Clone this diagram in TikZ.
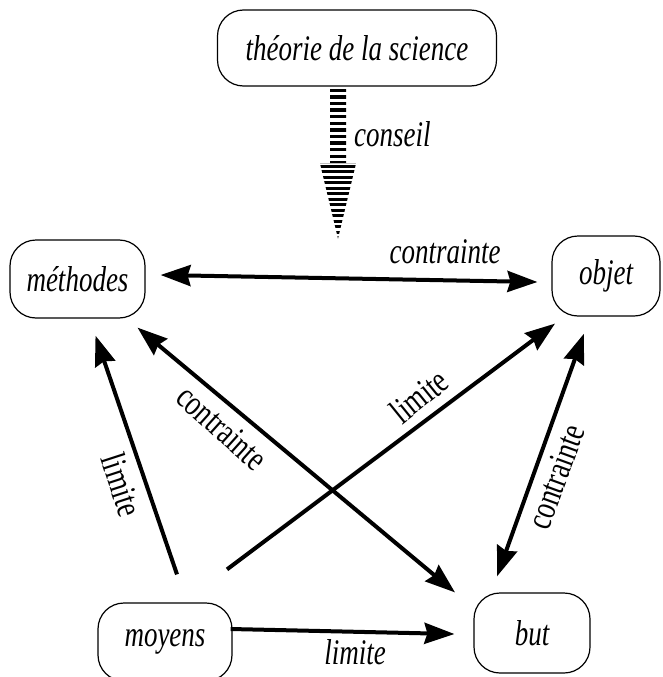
\documentclass[tikz,border=0pt]{standalone}
\usepackage{fontspec}
\setmainfont{Liberation Serif}[FakeStretch=0.75]
\usetikzlibrary{arrows.meta,calc}

\tikzset{
  box/.style={draw, rounded corners=26pt, line width=1.2pt, inner sep=0pt,
    minimum height=78pt, font=\fontsize{36}{40}\selectfont\itshape},
  link/.style={line width=4pt, -{Stealth[length=30pt,width=21pt,inset=3pt]}},
  twoway/.style={line width=4pt,
    {Stealth[length=30pt,width=21pt,inset=3pt]}-{Stealth[length=30pt,width=21pt,inset=3pt]}},
  lab/.style={font=\fontsize{36}{40}\selectfont\itshape, inner sep=0pt},
  rlab/.style={font=\fontsize{36}{40}\selectfont, inner sep=0pt}
}

\begin{document}
\begin{tikzpicture}[x=1pt,y=-1pt]
  \useasboundingbox (0,0) rectangle (662,677);

  % boxes
  \node[box, minimum width=279pt, minimum height=76pt] (theorie) at (357,48) {théorie de la science};
  \node[box, minimum width=135pt] (methodes) at (77.5,279) {méthodes};
  \node[box, minimum width=108pt, minimum height=80pt] (objet) at (606,276) {objet};
  \node[box, minimum width=134pt] (moyens) at (165,642) {moyens};
  \node[box, minimum width=116pt, minimum height=80pt] (but) at (532,633) {but};

  % conseil, striped arrow
  \coordinate (conseiltop) at ($(theorie.south)+(-19,2)$);
  \coordinate (conseiltip) at ($(conseiltop)+(0,150)$);
  \begin{scope}
    \clip ($(conseiltop)+(-8,0)$) rectangle ++(16,75);
    \foreach \y in {0,6.6,...,75}
      \fill ($(conseiltop)+(-10,\y)$) rectangle ++(20,3.3);
  \end{scope}
  \begin{scope}
    \clip ($(conseiltop)+(-18,75)$) -- ($(conseiltop)+(18,75)$) -- (conseiltip) -- cycle;
    \foreach \y in {76,81.5,...,150}
      \fill ($(conseiltop)+(-20,\y)$) rectangle ++(40,3);
  \end{scope}
  \draw[gray!50, line width=0.8pt] ($(conseiltop)+(-18,75)$) -- ($(conseiltop)+(18,75)$);
  \node[lab, anchor=west] at ($(conseiltop)+(16,46)$) {conseil};

  % links
  \draw[twoway] ($(methodes.east)+(15,-4)$) -- ($(objet.west)+(-14,6)$);
  \draw[link] ($(moyens.north)+(12,-28)$) -- ($(methodes.south)+(18,17)$);
  \draw[link] ($(moyens.north)+(62,-33)$) -- ($(objet.south)+(-51,7)$);
  \draw[twoway] ($(methodes.south)+(60,9)$) -- ($(but.north)+(-77,0)$);
  \draw[twoway] ($(objet.south)+(-22,17)$) -- ($(but.north)+(-35,-16)$);
  \draw[link] ($(moyens.east)+(-2,-13)$) -- ($(but.west)+(-19,1)$);

  % labels
  \node[lab] at (445,252) {contrainte};
  \node[rlab, rotate=-72] at (122,485) {limite};
  \node[rlab, rotate=39] at (419,396) {limite};
  \node[rlab, rotate=-42] at (222,428) {contrainte};
  \node[rlab, rotate=70] at (556,477) {contrainte};
  \node[lab] at (355,652) {limite};
\end{tikzpicture}
\end{document}
